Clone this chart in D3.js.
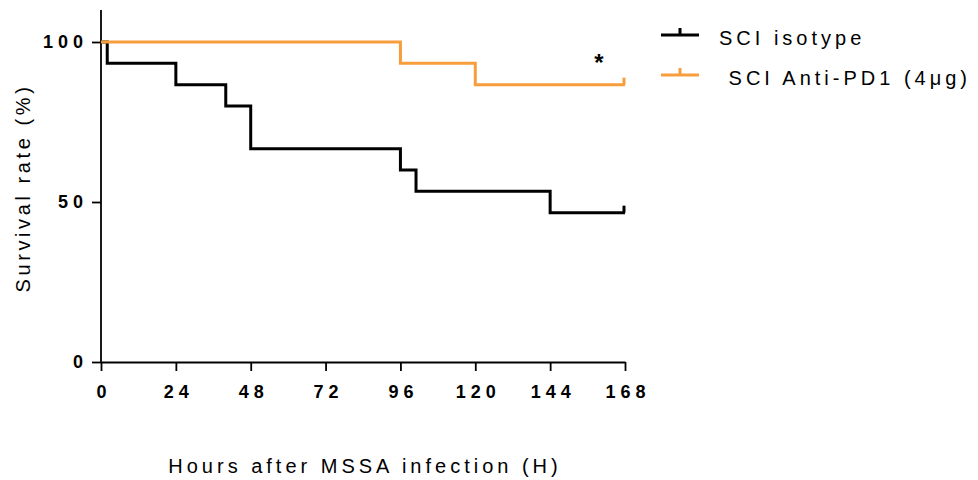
<!DOCTYPE html>
<html>
<head>
<meta charset="utf-8">
<script src="https://cdn.jsdelivr.net/npm/d3@7"></script>
<style>
  html, body { margin: 0; padding: 0; background: #fff; }
  svg { display: block; font-family: "Liberation Sans", Arial, sans-serif; }
</style>
</head>
<body>
<svg id="chart" width="978" height="480"></svg>
<script>
// Kaplan-Meier step data: time (h) of each event and survival (%) after it
const isotypeTimes = [0, 2, 24, 40, 48, 96, 101, 144, 168];
const isotypeSurvival = [100, 93.33, 86.67, 80, 66.67, 60, 53.33, 46.67, 46.67];
const antiPD1Times = [0, 96, 120, 168];
const antiPD1Survival = [100, 93.33, 86.67, 86.67];

const xTicks = [0, 24, 48, 72, 96, 120, 144, 168];
const yTicks = [0, 50, 100];

const seriesNames = ["SCI isotype", " SCI Anti-PD1 (4\u03bcg)"];
const seriesColors = ["#000000", "#f79d3c"];

const svg = d3.select("#chart");
const margin = { left: 101, right: 353, top: 10, bottom: 118 };
const W = 978, H = 480;

const x = d3.scaleLinear().domain([0, 168]).range([margin.left, W - margin.right]);
const y = d3.scaleLinear().domain([0, 110]).range([H - margin.bottom, margin.top]);

// Axes
const xAxis = d3.axisBottom(x).tickValues(xTicks).tickSize(9).tickSizeOuter(0).tickPadding(14);
const yAxis = d3.axisLeft(y).tickValues(yTicks).tickSize(9).tickSizeOuter(0).tickPadding(4);

const gx = svg.append("g").attr("transform", `translate(0,${y(0)})`).call(xAxis);
const gy = svg.append("g").attr("transform", `translate(${x(0)},0)`).call(yAxis);

[gx, gy].forEach(g => {
  g.select(".domain").attr("stroke", "#000").attr("stroke-width", 1.8);
  g.selectAll(".tick line").attr("stroke", "#000").attr("stroke-width", 1.8);
  g.selectAll(".tick text")
    .attr("fill", "#000")
    .style("font-size", "18px")
    .style("font-weight", "bold")
    .style("letter-spacing", "5px");
});
// extend y-axis line to the top of the plot area
gy.select(".domain").attr("d", `M0,${y(110)}V${y(0)}`);
gx.selectAll(".tick text").attr("dx", "2.5px");

// Survival step curves
const line = d3.line().x(d => x(d[0])).y(d => y(d[1])).curve(d3.curveStepAfter);

function drawSeries(times, surv, color) {
  const pts = times.map((t, i) => [t, surv[i]]);
  svg.append("path")
    .datum(pts)
    .attr("fill", "none")
    .attr("stroke", color)
    .attr("stroke-width", 3)
    .attr("stroke-linejoin", "miter")
    .attr("d", line);
  // censor tick at the end of follow-up
  const last = pts[pts.length - 1];
  svg.append("line")
    .attr("x1", x(last[0]) - 1).attr("x2", x(last[0]) - 1)
    .attr("y1", y(last[1])).attr("y2", y(last[1]) - 7)
    .attr("stroke", color).attr("stroke-width", 3);
}
drawSeries(isotypeTimes, isotypeSurvival, seriesColors[0]);
drawSeries(antiPD1Times, antiPD1Survival, seriesColors[1]);

// Significance mark
svg.append("text")
  .attr("x", 599).attr("y", 71)
  .attr("text-anchor", "middle")
  .style("font-size", "24px")
  .style("font-weight", "bold")
  .text("*");

// Axis titles
svg.append("text")
  .attr("x", 365).attr("y", 473)
  .attr("text-anchor", "middle")
  .style("font-size", "20px")
  .style("letter-spacing", "4px")
  .text("Hours after MSSA infection (H)");

svg.append("text")
  .attr("transform", `translate(30,188) rotate(-90)`)
  .attr("text-anchor", "middle")
  .style("font-size", "20px")
  .style("letter-spacing", "3.6px")
  .text("Survival rate (%)");

// Legend
const legend = svg.append("g");
seriesNames.forEach((name, i) => {
  const ly = 35 + i * 40;
  const g = legend.append("g").attr("transform", `translate(661,${ly})`);
  g.append("line").attr("x1", 0).attr("x2", 38).attr("y1", 0).attr("y2", 0)
    .attr("stroke", seriesColors[i]).attr("stroke-width", 3);
  g.append("line").attr("x1", 19).attr("x2", 19).attr("y1", 0).attr("y2", -7)
    .attr("stroke", seriesColors[i]).attr("stroke-width", 3);
  g.append("text")
    .attr("x", 58).attr("y", 10)
    .attr("xml:space", "preserve")
    .style("white-space", "pre")
    .style("font-size", "20px")
    .style("letter-spacing", "4px")
    .text(name);
});
</script>
</body>
</html>
